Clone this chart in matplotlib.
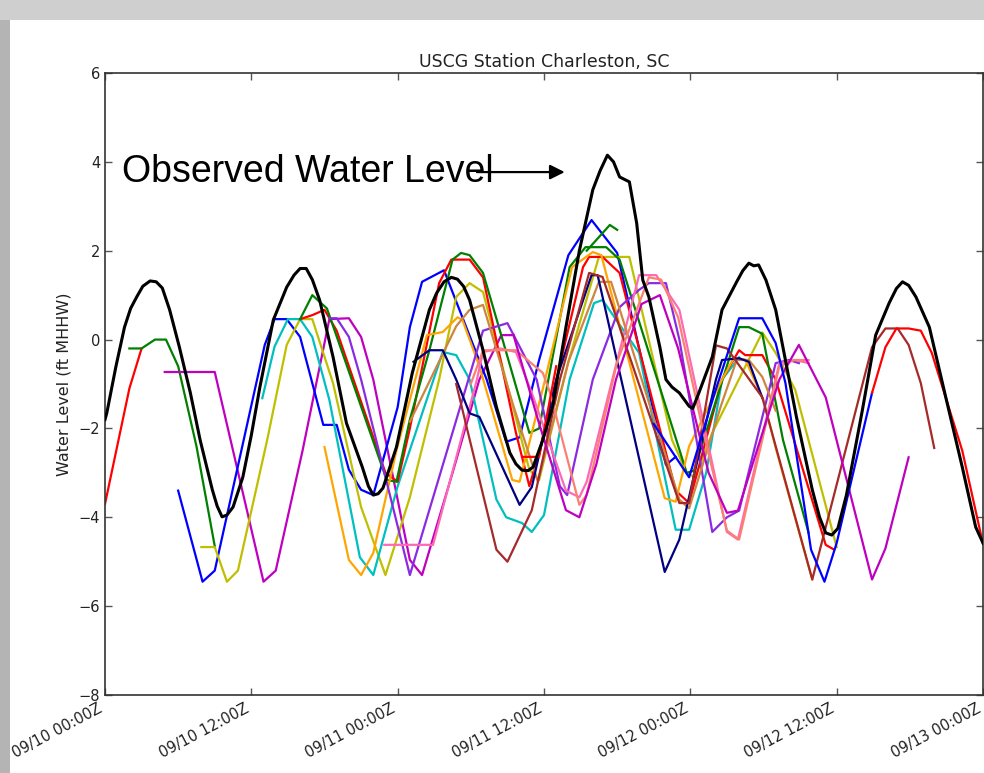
import matplotlib
matplotlib.use("Agg")
import matplotlib.pyplot as plt
from matplotlib.patches import Rectangle

# ---------------- data ----------------
title = "USCG Station Charleston, SC"
ylabel = "Water Level (ft MHHW)"
annotation_text = "Observed Water Level"
xtick_hours = [0, 12, 24, 36, 48, 60, 72]
xtick_labels = ["09/10 00:00Z", "09/10 12:00Z", "09/11 00:00Z", "09/11 12:00Z",
                "09/12 00:00Z", "09/12 12:00Z", "09/13 00:00Z"]
ytick_values = [-8, -6, -4, -2, 0, 2, 4, 6]

# observed water level (hours since 09/10 00Z, ft MHHW)
obs_t = [0, 0.15, 0.9, 1.6, 2.1, 2.6, 3.1, 3.7, 4.2, 4.7, 5.3, 6.1, 7.0, 7.8, 8.8, 9.2,
         9.6, 10.0, 10.5, 11.3, 12.0, 12.7, 13.8, 14.9, 15.5, 16.0, 16.5, 17.0, 17.6,
         18.7, 19.8, 21.1, 21.6, 22.0, 22.4, 22.8, 23.9, 25.2, 26.6, 27.2, 27.8, 28.4,
         28.9, 29.4, 29.9, 31.0, 32.1, 33.2, 33.7, 34.2, 34.7, 35.1, 35.9, 36.7, 37.8,
         38.9, 40.0, 40.6, 41.2, 41.7, 42.2, 43.0, 43.6, 44.1, 44.6, 45.5, 46.0, 46.5,
         47.1, 47.9, 48.2, 48.7, 49.8, 50.6, 51.8, 52.3, 52.8, 53.2, 53.6, 54.2, 55.0,
         56.7, 58.0, 58.6, 59.1, 59.6, 60.1, 60.8, 62.1, 63.2, 64.3, 64.9, 65.4, 65.9,
         66.5, 67.6, 69.0, 70.3, 71.4, 72.0]
obs_v = [-1.8, -1.65, -0.6, 0.28, 0.7, 0.96, 1.2, 1.32, 1.3, 1.16, 0.67, -0.17, -1.2,
         -2.26, -3.38, -3.75, -3.99, -3.95, -3.77, -3.1, -2.15, -1.07, 0.44, 1.18, 1.45,
         1.6, 1.6, 1.35, 0.89, -0.39, -1.88, -2.87, -3.3, -3.5, -3.47, -3.34, -2.42,
         -0.75, 0.67, 1.05, 1.3, 1.4, 1.36, 1.2, 0.89, -0.24, -1.52, -2.55, -2.8, -2.94,
         -2.95, -2.87, -2.26, -1.52, 0.28, 2.0, 3.37, 3.8, 4.15, 4.0, 3.66, 3.55, 2.62,
         1.34, 0.96, -0.17, -0.9, -1.07, -1.2, -1.5, -1.55, -1.2, -0.39, 0.67, 1.3, 1.55,
         1.72, 1.66, 1.68, 1.34, 0.67, -1.74, -3.38, -4.0, -4.35, -4.4, -4.25, -3.5,
         -1.6, 0.1, 0.82, 1.15, 1.3, 1.22, 0.96, 0.28, -1.36, -2.87, -4.22, -4.58]

# model forecast runs
red1_t = [0, 2, 3]
red1_v = [-3.7, -1.1, -0.2]

green1_t = [2, 3, 4.1, 5, 6, 7.5, 9]
green1_v = [-0.2, -0.2, 0, 0, -0.6, -2.4, -4.65]

magenta1_t = [4.9, 9, 13, 14, 16.2, 18.4, 20, 21, 22, 25, 26, 28.5, 30.7, 32.5, 33.5]
magenta1_v = [-0.73, -0.73, -5.45, -5.2, -2.5, 0.46, 0.48, 0.06, -0.9, -4.96, -5.3, -3.0,
              -0.9, 0.1, 0.1]

blue1_t = [6, 8, 9, 13.1, 13.9, 14.9, 16, 17.9, 19, 20, 21, 22, 24, 25, 26, 27.8, 31.3,
           32.9, 34, 35.6, 38, 39.9, 42, 46, 46.8]
blue1_v = [-3.4, -5.45, -5.2, -0.12, 0.46, 0.46, 0.06, -1.92, -1.92, -2.93, -3.38, -3.5,
           -1.52, 0.28, 1.3, 1.56, -0.9, -2.3, -2.2, -0.46, 1.9, 2.69, 1.95, -2.82, -2.64]

yellow1_t = [7.9, 9, 10, 10.9, 13.3, 14.9, 16, 17, 18.7, 21, 23, 25, 27.4, 28.8, 29.9, 31,
             34.8, 35.6, 38, 40.5, 43, 46.5, 47.7, 48.4, 49.8, 53.9, 55, 56.6, 60]
yellow1_v = [-4.67, -4.67, -5.45, -5.2, -2.26, -0.12, 0.46, 0.46, -0.98, -3.77, -5.3,
             -3.55, -0.9, 0.96, 1.27, 1.07, -2.93, -3.16, -0.5, 1.86, 1.86, -2.26, -3.0,
             -3.1, -2.1, 0.16, -0.3, -1.13, -4.67]

cyan1_t = [12.9, 13.9, 15, 16, 17, 18.4, 20.9, 22, 24, 27.7, 28.8, 29.9, 32.1, 32.9, 34.2,
           35, 36, 38.1, 40.1, 40.8, 43.8, 46.8, 47.9, 49.3, 50.6, 52]
cyan1_v = [-1.32, -0.16, 0.46, 0.46, 0.06, -1.36, -4.9, -5.3, -3.3, -0.28, -0.35, -0.9,
           -3.6, -4.0, -4.13, -4.33, -3.95, -0.9, 0.82, 0.89, -0.3, -4.28, -4.28, -3.0,
           -0.9, -0.4]

green2_t = [16, 17, 18.2, 23.1, 23.9, 25, 26.6, 28.5, 29.2, 29.9, 31, 32.6, 34.8, 35.6,
            38.1, 39.4, 41.1, 42.2, 47.7, 48.3, 52, 52.8, 53.9, 55.6, 57.7]
green2_v = [0.46, 1.0, 0.7, -3.16, -3.2, -1.8, -0.24, 1.8, 1.95, 1.9, 1.5, 0.0, -2.1,
            -2.0, 1.63, 2.08, 2.08, 1.8, -3.0, -2.95, 0.28, 0.28, 0.13, -2.26, -4.35]

green3_t = [39.5, 41.4, 42]
green3_v = [2.0, 2.58, 2.47]

red2_t = [16, 17, 18, 19, 23, 24, 25, 27.4, 28.4, 29.9, 31, 33.7, 34.8, 35.6, 39.2, 39.7,
          40.8, 42.2, 46.8, 47.9, 50.6, 52, 52.5, 53.9, 55, 59.1, 59.8]
red2_v = [0.46, 0.55, 0.67, 0.2, -3.0, -3.2, -2.0, 1.27, 1.8, 1.8, 1.4, -2.1, -3.3, -2.55,
          1.63, 1.86, 1.86, 1.5, -3.4, -3.68, -0.9, -0.24, -0.35, -0.35, -0.9, -4.62, -4.73]

red3_t = [34.2, 35.6, 37.0]
red3_v = [-2.64, -2.64, -0.6]

orange1_t = [18, 20, 21, 22, 23.9, 26.4, 27.7, 28.9, 29.3, 30.7, 33.4, 34, 36, 38.3, 40,
             40.7, 45.9, 46.8, 47.9, 50.6, 51.5, 52.5, 54, 55, 58]
orange1_v = [-2.42, -4.96, -5.3, -4.8, -2.5, 0.1, 0.17, 0.5, 0.45, -0.6, -3.16, -3.2, -1.0,
             1.63, 1.97, 1.9, -3.57, -3.65, -2.4, -0.9, -0.45, -0.45, -1.36, -2.44, -5.4]

purple1_t = [18.4, 19, 20, 21, 25, 31, 33, 35.4, 37.3, 37.9, 40, 42.2, 43.8, 44.6, 46,
             47.1, 49.8, 51, 52, 55, 56.1, 56.9]
purple1_v = [0.48, 0.48, 0.06, -0.9, -5.3, 0.2, 0.37, -0.9, -3.3, -3.5, -0.9, 0.73, 1.12,
             1.27, 1.27, 0.0, -4.33, -4.0, -3.85, -0.53, -0.46, -0.53]

pink1_t = [22.9, 26.9, 30.5, 31, 32.4, 33.7, 35, 37.8, 38.9, 39.5, 41.6, 43.8, 45.2, 47.1,
           51, 51.9, 55.3, 56.6, 57.7]
pink1_v = [-4.62, -4.62, -0.9, -0.28, -0.2, -0.28, -1.2, -3.4, -3.55, -3.2, -0.9, 1.45,
           1.45, 0.67, -4.33, -4.5, -0.53, -0.46, -0.53]

salmon1_t = [30, 31, 33.7, 35.9, 36.5, 38.9, 39.5, 42, 44.6, 45.6, 47, 49, 51, 52, 55.3,
             56.5, 57.7]
salmon1_v = [-1.0, -0.24, -0.24, -0.75, -1.2, -3.72, -3.5, -0.5, 1.4, 1.35, 0.5, -2.0,
             -4.3, -4.5, -0.6, -0.46, -0.46]

navy1_t = [25.3, 26.6, 27.7, 28.8, 29.9, 30.7, 34, 35, 37, 39.9, 40.4, 45.9, 47.1, 50.1,
           50.6, 52, 52.8, 53.9]
navy1_v = [-0.5, -0.24, -0.24, -0.9, -1.66, -1.74, -3.72, -3.32, -0.9, 1.45, 1.45, -5.23,
           -4.5, -0.9, -0.46, -0.42, -0.5, -1.31]

peru1_t = [25, 28.8, 29.9, 31, 33.5, 35.5, 38, 40.5, 41.5, 47.1, 47.9, 50.5, 51.8, 52.8,
           53.9, 55]
peru1_v = [-1.85, 0.3, 0.67, 0.78, -1.5, -3.2, -0.5, 1.3, 1.3, -3.6, -3.8, -1.5, -0.46,
           -0.46, -0.84, -1.6]

brown1_t = [28.8, 32.1, 33, 35, 37.3, 39.7, 40.8, 47.1, 47.9, 50.1, 51, 53.9, 58, 62.9,
            64, 65, 65.9, 66.9, 68]
brown1_v = [-1.0, -4.73, -5.0, -3.84, -0.9, 1.5, 1.41, -3.68, -3.68, -0.13, -0.2, -1.3,
            -5.4, -0.17, 0.25, 0.25, -0.12, -0.98, -2.44]

magenta2_t = [33.5, 35.5, 37.8, 38.9, 40.3, 41.9, 44, 45.5, 47, 49.5, 51, 51.9, 55.3,
              56.9, 59.1, 62.9, 64, 65.9]
magenta2_v = [0.1, -1.8, -3.84, -4.0, -2.8, -0.9, 0.8, 1.0, -0.2, -3.0, -3.9, -3.85,
              -0.9, -0.12, -1.3, -5.4, -4.7, -2.65]

blue2_t = [45, 47.9, 50, 52, 53.9, 55, 55.8, 57.9, 59, 60, 62.9]
blue2_v = [-1.9, -3.1, -1.2, 0.48, 0.48, -0.08, -0.98, -4.73, -5.45, -4.58, -1.2]

red4_t = [62.9, 64, 64.9, 65.9, 66.9, 67.8, 70.3, 72]
red4_v = [-1.2, -0.17, 0.25, 0.25, 0.2, -0.3, -2.5, -4.6]

runs = [
    (red1_t, red1_v, (1.0, 0.0, 0.0)),
    (green1_t, green1_v, (0.0, 0.5, 0.0)),
    (magenta1_t, magenta1_v, (0.75, 0.0, 0.75)),
    (blue1_t, blue1_v, (0.0, 0.0, 1.0)),
    (yellow1_t, yellow1_v, (0.75, 0.75, 0.0)),
    (cyan1_t, cyan1_v, (0.0, 0.75, 0.75)),
    (red2_t, red2_v, (1.0, 0.0, 0.0)),
    (green2_t, green2_v, (0.0, 0.5, 0.0)),
    (orange1_t, orange1_v, "#FFA500"),
    (purple1_t, purple1_v, "#8A2BE2"),
    (pink1_t, pink1_v, "#FF69B4"),
    (peru1_t, peru1_v, "#CD853F"),
    (navy1_t, navy1_v, "#000080"),
    (brown1_t, brown1_v, "#A52A2A"),
    (salmon1_t, salmon1_v, "#FA8072"),
    (red3_t, red3_v, (1.0, 0.0, 0.0)),
    (green3_t, green3_v, (0.0, 0.5, 0.0)),
    (magenta2_t, magenta2_v, (0.75, 0.0, 0.75)),
    (blue2_t, blue2_v, (0.0, 0.0, 1.0)),
    (red4_t, red4_v, (1.0, 0.0, 0.0)),
]

# ---------------- figure ----------------
W, H = 984, 773
fig = plt.figure(figsize=(W / 100, H / 100), dpi=100)
fig.patch.set_facecolor("white")
fig.add_artist(Rectangle((0, 0), 10 / W, 1, transform=fig.transFigure,
                         facecolor="#b4b4b4", edgecolor="none", zorder=0))
fig.add_artist(Rectangle((0, 1 - 20 / H), 1, 20 / H, transform=fig.transFigure,
                         facecolor="#cfcfcf", edgecolor="none", zorder=0))

ax = fig.add_axes([105 / W, 1 - 695 / H, (983 - 105) / W, (695 - 73) / H])

for t, v, c in runs:
    ax.plot(t, v, color=c, lw=1.6, solid_joinstyle="round")
ax.plot(obs_t, obs_v, color="black", lw=2.2, zorder=5, solid_joinstyle="round")

ax.set_xlim(0, 72)
ax.set_ylim(-8, 6)
ax.set_xticks(xtick_hours)
ax.set_xticklabels(xtick_labels, rotation=28, ha="right", fontsize=10.5, color="#222222")
ax.set_yticks(ytick_values)
ax.tick_params(axis="y", labelsize=10.5, labelcolor="#222222")
ax.tick_params(direction="in", top=True, right=True, length=5, width=1, color="#555555")
ax.tick_params(axis="x", pad=4)
for s in ax.spines.values():
    s.set_linewidth(1.2)
    s.set_color("#333333")

ax.set_title(title, fontsize=12.5, color="#222222", pad=4)
ax.set_ylabel(ylabel, fontsize=11.5, color="#222222", labelpad=5)

ax.text(1.4, 3.77, annotation_text, fontsize=27, family="Liberation Sans",
        va="center", ha="left", color="black", zorder=6)
ax.annotate("", xy=(37.7, 3.77), xytext=(30.5, 3.77),
            arrowprops=dict(arrowstyle="-|>", color="black", lw=1.6,
                            mutation_scale=22, shrinkA=0, shrinkB=0), zorder=6)

fig.savefig("out.png", dpi=100)
